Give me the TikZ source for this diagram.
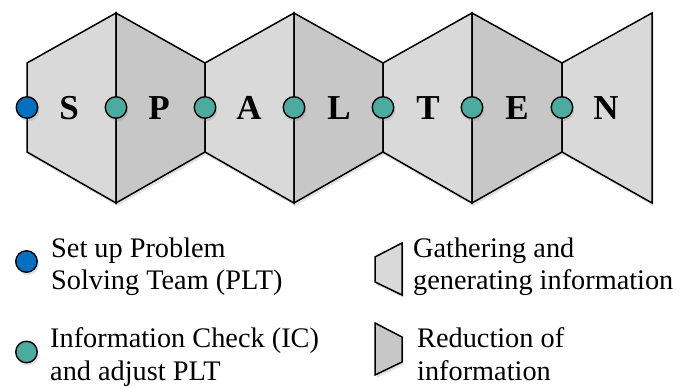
\documentclass[tikz,border=0pt]{standalone}
\usepackage{fontspec}
\setmainfont{Liberation Serif}
\usetikzlibrary{shadows}
\definecolor{lightp}{RGB}{217,217,217}
\definecolor{darkp}{RGB}{199,199,199}
\definecolor{bluec}{RGB}{0,112,192}
\definecolor{tealc}{RGB}{74,171,158}
\tikzset{
  edge/.style={line width=1.5pt, line join=miter},
  myshadow/.style={drop shadow={opacity=0.22, shadow xshift=1.5pt, shadow yshift=-3pt}},
  dot/.style={circle, draw, line width=1.4pt, minimum size=21.5pt, inner sep=0pt, myshadow},
  letter/.style={font=\bfseries\fontsize{35}{40}\selectfont, inner sep=0pt, anchor=base},
  legtext/.style={font=\fontsize{28.3}{32}\selectfont, inner sep=0pt, anchor=base west},
}
\begin{document}
\begin{tikzpicture}[x=1pt,y=1pt]
\useasboundingbox (0,0) rectangle (688,388);
\def\NT{325}\def\NB{236}\def\WT{375}\def\WB{185}
% shadow of whole chain
\fill[white, myshadow] (27,\NT) -- (116,\WT) -- (205,\NT) -- (294,\WT) -- (383,\NT) -- (472,\WT) -- (562,\NT) -- (652,\WT) -- (652,\WB) -- (562,\NB) -- (472,\WB) -- (383,\NB) -- (294,\WB) -- (205,\NB) -- (116,\WB) -- (27,\NB) -- cycle;
% panels
\filldraw[fill=lightp, edge] (27,\NT) -- (116,\WT) -- (116,\WB) -- (27,\NB) -- cycle;
\filldraw[fill=darkp, edge] (116,\WT) -- (205,\NT) -- (205,\NB) -- (116,\WB) -- cycle;
\filldraw[fill=lightp, edge] (205,\NT) -- (294,\WT) -- (294,\WB) -- (205,\NB) -- cycle;
\filldraw[fill=darkp, edge] (294,\WT) -- (383,\NT) -- (383,\NB) -- (294,\WB) -- cycle;
\filldraw[fill=lightp, edge] (383,\NT) -- (472,\WT) -- (472,\WB) -- (383,\NB) -- cycle;
\filldraw[fill=darkp, edge] (472,\WT) -- (562,\NT) -- (562,\NB) -- (472,\WB) -- cycle;
\filldraw[fill=lightp, edge] (562,\NT) -- (652,\WT) -- (652,\WB) -- (562,\NB) -- cycle;
% letters
\node[letter] (lS) at (69,268.5) {S};
\node[letter] (lP) at (159,268.5) {P};
\node[letter] (lA) at (249,268.5) {A};
\node[letter] (lL) at (339,268.5) {L};
\node[letter] (lT) at (428,268.5) {T};
\node[letter] (lE) at (517,268.5) {E};
\node[letter] (lN) at (606,268.5) {N};
% circles
\node[dot, fill=bluec] (c0) at (27,280.5) {};
\node[dot, fill=tealc] (c1) at (116,280.5) {};
\node[dot, fill=tealc] (c2) at (205,280.5) {};
\node[dot, fill=tealc] (c3) at (294,280.5) {};
\node[dot, fill=tealc] (c4) at (383,280.5) {};
\node[dot, fill=tealc] (c5) at (472,280.5) {};
\node[dot, fill=tealc] (c6) at (562,280.5) {};
% legend
\node[dot, fill=bluec] (lg1) at (26.5,126.5) {};
\node[legtext] (t1a) at (51,130) {Set up Problem};
\node[legtext] (t1b) at (51,98) {Solving Team (PLT)};
\node[dot, fill=tealc] (lg2) at (26.5,36) {};
\node[legtext] (t2a) at (50,40) {Information Check (IC)};
\node[legtext] (t2b) at (50,7) {and adjust PLT};
\filldraw[fill=lightp, edge, myshadow] (402,145) -- (402,93) -- (375,106) -- (375,131) -- cycle;
\node[legtext] (t3a) at (413,130) {Gathering and};
\node[legtext] (t3b) at (413,98) {generating information};
\filldraw[fill=darkp, edge, myshadow] (375,65) -- (402,51) -- (402,26) -- (375,13) -- cycle;
\node[legtext] (t4a) at (417,40) {Reduction of};
\node[legtext] (t4b) at (417,7) {information};
\end{tikzpicture}
\end{document}
